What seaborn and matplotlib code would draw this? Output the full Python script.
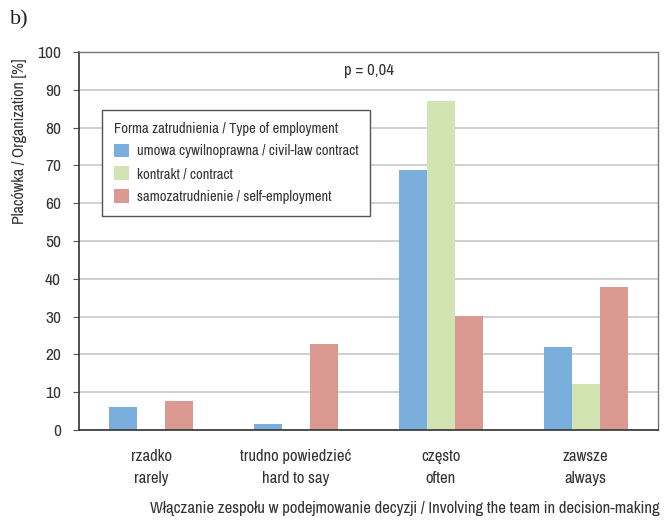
import matplotlib
matplotlib.use("Agg")
import matplotlib.pyplot as plt
import seaborn as sns
import pandas as pd
from matplotlib import font_manager

categories = ["rzadko\nrarely", "trudno powiedzieć\nhard to say", "często\noften", "zawsze\nalways"]
series_names = ["umowa cywilnoprawna / civil-law contract",
                "kontrakt / contract",
                "samozatrudnienie / self-employment"]
civil_law = [6.1, 1.5, 68.8, 22.0]
contract = [0.0, 0.0, 87.0, 12.2]
self_employment = [7.7, 22.8, 30.2, 37.8]
colors = ["#7aaedd", "#d1e4b1", "#db9a91"]

sns.set_theme(style="white")

# prefer a condensed sans face when one is available
installed = sorted({f.name for f in font_manager.fontManager.ttflist})
narrow = [n for n in installed if ("Condensed" in n or "Narrow" in n) and "Serif" not in n and "Mono" not in n]
base = narrow[0] if narrow else "Roboto"
plt.rcParams["font.family"] = [base, "DejaVu Sans"]
fs = 12 if narrow else 10.5
fs_small = fs * 0.875

rows = []
for name, vals in zip(series_names, [civil_law, contract, self_employment]):
    for c, v in zip(categories, vals):
        rows.append({"cat": c, "series": name, "value": v})
df = pd.DataFrame(rows)

fig = plt.figure(figsize=(6.69, 5.20), dpi=100)
ax = fig.add_axes([79 / 669, 90 / 520, 579 / 669, 378 / 520])

sns.barplot(data=df, x="cat", y="value", hue="series", order=categories,
            hue_order=series_names, palette=colors, width=0.58,
            saturation=1, ax=ax, edgecolor="none", linewidth=0)

ax.set_ylim(0, 100)
ax.set_xlim(-0.5, 3.5)
ax.set_yticks(range(0, 101, 10))
ax.yaxis.grid(True, color="#c8c8c8", linewidth=1.2)
ax.set_axisbelow(True)
ax.tick_params(axis="y", left=True, length=4, width=0.8, color="#555555",
               labelsize=fs + 0.5, labelcolor="#333333", pad=9)
ax.tick_params(axis="x", bottom=False, labelsize=fs, labelcolor="#333333", pad=8)
for lbl in ax.get_xticklabels():
    lbl.set_linespacing(1.55)

for side in ["top", "right"]:
    ax.spines[side].set_visible(True)
    ax.spines[side].set_color("#777777")
    ax.spines[side].set_linewidth(1.0)
for side in ["left", "bottom"]:
    ax.spines[side].set_color("#333333")
    ax.spines[side].set_linewidth(1.2)

ax.set_xlabel("")
ax.set_ylabel("Placówka / Organization [%]", fontsize=fs * 0.96, color="#333333")
ax.yaxis.set_label_coords(-0.09, 0.765)

ax.text(1.5, 95, "p = 0,04", ha="center", va="center", fontsize=fs, color="#333333")

leg = ax.legend(title="Forma zatrudnienia / Type of employment", loc="upper left",
                bbox_to_anchor=(0.0397, 0.8466), fontsize=fs_small, title_fontsize=fs_small,
                frameon=True, fancybox=False, edgecolor="#555555", framealpha=1,
                handlelength=1.05, handleheight=1.05, handletextpad=0.55,
                labelspacing=0.55, borderpad=0.8, borderaxespad=0)
leg._legend_box.align = "left"
leg.get_frame().set_linewidth(1.0)
for t in leg.get_texts():
    t.set_color("#333333")
leg.get_title().set_color("#333333")

fig.text(405 / 669, 1 - 508 / 520, "Włączanie zespołu w podejmowanie decyzji / Involving the team in decision-making",
         ha="center", va="center", fontsize=fs, color="#333333")
fig.text(10 / 669, 1 - 20 / 520, "b)", ha="left", va="center", fontsize=16,
         family=["Liberation Serif", "DejaVu Serif"], color="#222222")

fig.savefig("out.png", dpi=100)
